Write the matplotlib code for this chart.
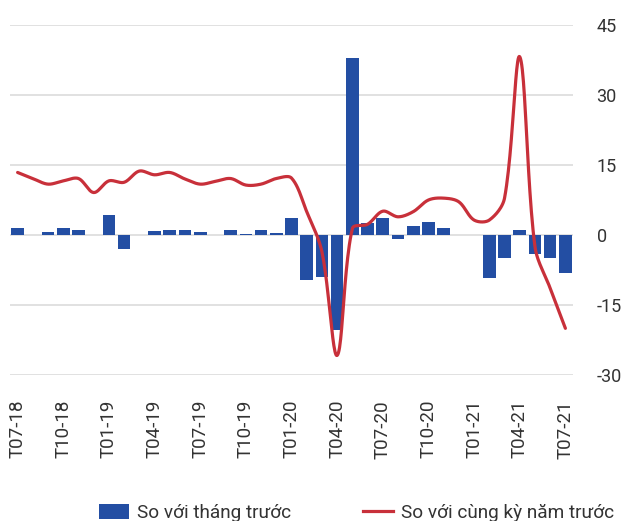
import numpy as np
import matplotlib
matplotlib.use("Agg")
import matplotlib.pyplot as plt
from matplotlib.patches import Patch
from matplotlib.lines import Line2D

plt.rcParams['font.family'] = ['Roboto', 'DejaVu Sans']

months = ["T07-18", "T08-18", "T09-18", "T10-18", "T11-18", "T12-18",
          "T01-19", "T02-19", "T03-19", "T04-19", "T05-19", "T06-19",
          "T07-19", "T08-19", "T09-19", "T10-19", "T11-19", "T12-19",
          "T01-20", "T02-20", "T03-20", "T04-20", "T05-20", "T06-20",
          "T07-20", "T08-20", "T09-20", "T10-20", "T11-20", "T12-20",
          "T01-21", "T02-21", "T03-21", "T04-21", "T05-21", "T06-21",
          "T07-21"]

mom = [1.4, 0.0, 0.6, 1.5, 1.0, 0.0,
       4.2, -2.9, 0.0, 0.85, 1.1, 1.15,
       0.65, 0.0, 1.0, 0.3, 1.15, 0.5,
       3.6, -9.6, -8.9, -20.4, 37.9, 2.5,
       3.6, -0.9, 2.0, 2.8, 1.4, 0.0,
       0.0, -9.3, -4.9, 1.1, -4.1, -4.9,
       -8.1]

yoy = [13.4, 12.1, 10.9, 11.6, 12.1, 9.1,
       11.6, 11.3, 13.7, 12.9, 13.4, 12.0,
       10.9, 11.5, 12.1, 10.7, 10.9, 12.1,
       12.2, 5.0, -3.6, -25.8, 1.4, 2.3,
       5.1, 3.9, 5.0, 7.5, 7.9, 7.1,
       3.2, 3.2, 7.9, 38.2, -2.5, -11.4,
       -20.0]

yticks = [-30, -15, 0, 15, 30, 45]
label_months = months[::3]

BLUE = "#234EA3"
RED = "#C8303A"
GRID = "#DCDCDC"
TXT = "#333333"

PX_X = 15.25   # screen pixels per month (for smoothing shape only)
PX_Y = 4.667   # screen pixels per unit


def smooth_curve(x, y, n=24):
    """Chord-weighted cubic Bezier smoothing (Excel-like smoothed line)."""
    P = np.column_stack([np.asarray(x, float) * PX_X,
                         np.asarray(y, float) * PX_Y])
    m = len(P)
    ext = np.vstack([2 * P[0] - P[1], P, 2 * P[-1] - P[-2]])
    L = np.linalg.norm(np.diff(ext, axis=0), axis=1)  # len m+1
    T = ext[2:] - ext[:-2]                            # tangent at each point
    t = np.linspace(0, 1, n, endpoint=False)[:, None]
    pts = []
    for i in range(m - 1):
        p1, p2 = P[i], P[i + 1]
        lp, ln = L[i], L[i + 1]
        c1 = p1 + T[i] * ln / (lp + ln) / 3
        lp2, ln2 = L[i + 1], L[i + 2]
        c2 = p2 - T[i + 1] * lp2 / (lp2 + ln2) / 3
        b = ((1 - t) ** 3) * p1 + 3 * ((1 - t) ** 2) * t * c1 + \
            3 * (1 - t) * t ** 2 * c2 + t ** 3 * p2
        pts.append(b)
    pts.append(P[-1][None, :])
    pts = np.vstack(pts)
    return pts[:, 0] / PX_X, pts[:, 1] / PX_Y


fig = plt.figure(figsize=(6.23, 5.21), dpi=100)
ax = fig.add_axes([10 / 623, 1 - 375 / 521, 563 / 623, 350 / 521])

x = np.arange(len(months))
ax.bar(x, mom, width=0.83, color=BLUE, zorder=2)
sx, sy = smooth_curve(x, yoy)
ax.plot(sx, sy, color=RED, lw=2.3, zorder=3, solid_capstyle='round')

ax.set_xlim(-0.5, len(months) - 0.5)
ax.set_ylim(-30, 45)
ax.set_yticks(yticks)
ax.set_yticklabels([str(v) for v in yticks])
ax.yaxis.tick_right()
ax.grid(axis='y', color=GRID, lw=1.2, zorder=0)
ax.set_axisbelow(True)
for s in ax.spines.values():
    s.set_visible(False)
ax.tick_params(axis='y', length=0, pad=17, labelsize=13, labelcolor=TXT)
ax.set_xticks(x[::3])
ax.set_xticklabels(label_months, rotation=90)
ax.tick_params(axis='x', length=0, pad=18, labelsize=13.5, labelcolor=TXT)

handles = [Patch(facecolor=BLUE, edgecolor='none'),
           Line2D([0], [0], color=RED, lw=2.3)]
fig.legend(handles, ["So với tháng trước", "So với cùng kỳ năm trước"],
           loc='center', bbox_to_anchor=(0.572, 0.015), ncol=2, frameon=False,
           fontsize=13.7, labelcolor=TXT, handlelength=1.6, handleheight=0.85,
           handletextpad=0.4, columnspacing=3.8)

fig.savefig("out.png", dpi=100)
